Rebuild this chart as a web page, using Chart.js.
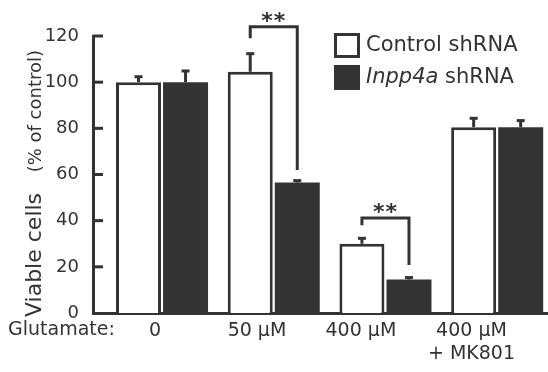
<!DOCTYPE html>
<html>
<head>
<meta charset="utf-8">
<script src="https://cdn.jsdelivr.net/npm/chart.js@4"></script>
<style>
  html, body { margin: 0; padding: 0; background: #fff; }
</style>
</head>
<body>
<canvas id="myChart" width="548" height="372"></canvas>
<script>
// Data
const groups = ['0', '50 μM', '400 μM', ['400 μM', '+ MK801']];
const seriesNames = ['Control shRNA', 'Inpp4a shRNA'];
const controlVals = [100, 104.5, 30, 80.5];
const controlErr = [3, 8.5, 3, 4.5];
const inppVals = [100, 56.5, 14.5, 80.5];
const inppErr = [5.5, 1.5, 1.5, 3.5];
const yTicks = [0, 20, 40, 60, 80, 100, 120];

// significance brackets (y units): group, top, left leg end, right leg end
const sigGroups = [1, 2];
const sigTop = [124, 41.2];
const sigLeftEnd = [119, 38];
const sigRightEnd = [62, 20.8];

const INK = '#333333';
const FONT = "'DejaVu Sans', sans-serif";
const X_MIN = -0.618, X_MAX = 3.455;
// label centres sit a bit left of the bar groups in the original
const labelPos = [-0.063, 0.85, 1.78, 2.77];

// error bars, upward only
const errorBars = {
    id: 'errorBars',
    afterDatasetsDraw(chart) {
        const ctx = chart.ctx;
        const y = chart.scales.y;
        const errs = [controlErr, inppErr];
        ctx.save();
        ctx.strokeStyle = INK;
        ctx.fillStyle = INK;
        ctx.lineWidth = 3;
        chart.data.datasets.forEach((ds, d) => {
            chart.getDatasetMeta(d).data.forEach((bar, i) => {
                const top = y.getPixelForValue(ds.data[i].y + errs[d][i]);
                ctx.beginPath();
                ctx.moveTo(bar.x, bar.y);
                ctx.lineTo(bar.x, top + 1);
                ctx.stroke();
                ctx.fillRect(bar.x - 4, top, 8, 3);
            });
        });
        ctx.restore();
    }
};

// ** brackets
const sigBrackets = {
    id: 'sigBrackets',
    afterDatasetsDraw(chart) {
        const ctx = chart.ctx;
        const y = chart.scales.y;
        ctx.save();
        ctx.strokeStyle = INK;
        ctx.fillStyle = INK;
        ctx.lineWidth = 3;
        ctx.lineJoin = 'miter';
        sigGroups.forEach((g, k) => {
            const xl = chart.getDatasetMeta(0).data[g].x;
            const xr = chart.getDatasetMeta(1).data[g].x;
            const yt = y.getPixelForValue(sigTop[k]);
            ctx.beginPath();
            ctx.moveTo(xl, y.getPixelForValue(sigLeftEnd[k]));
            ctx.lineTo(xl, yt);
            ctx.lineTo(xr, yt);
            ctx.lineTo(xr, y.getPixelForValue(sigRightEnd[k]));
            ctx.stroke();
            ctx.font = 'bold 22px ' + FONT;
            ctx.letterSpacing = '1px';
            ctx.textAlign = 'center';
            ctx.textBaseline = 'alphabetic';
            ctx.fillText('**', (xl + xr) / 2, yt + 1);
            ctx.letterSpacing = '0px';
        });
        ctx.restore();
    }
};

// y tick marks point into the plot, plus legend and titles
const decorations = {
    id: 'decorations',
    afterDraw(chart) {
        const ctx = chart.ctx;
        const y = chart.scales.y;
        const area = chart.chartArea;
        ctx.save();
        ctx.strokeStyle = INK;
        ctx.fillStyle = INK;
        ctx.lineWidth = 3;
        yTicks.forEach(v => {
            if (v === 0) return;
            const py = y.getPixelForValue(v);
            ctx.beginPath();
            ctx.moveTo(area.left, py);
            ctx.lineTo(area.left + 10, py);
            ctx.stroke();
        });

        // legend
        ctx.fillStyle = '#fff';
        ctx.fillRect(334, 33, 26, 25);
        ctx.strokeRect(335.5, 34.5, 23, 22);
        ctx.fillStyle = INK;
        ctx.fillRect(334, 65, 26, 25);
        ctx.textAlign = 'left';
        ctx.textBaseline = 'alphabetic';
        ctx.font = '21px ' + FONT;
        ctx.fillText(seriesNames[0], 366, 51);
        ctx.font = 'italic 21px ' + FONT;
        ctx.fillText('Inpp4a', 366, 83);
        const w = ctx.measureText('Inpp4a').width;
        ctx.font = '21px ' + FONT;
        ctx.fillText(' shRNA', 366 + w, 83);

        // x label prefix
        ctx.font = '19px ' + FONT;
        ctx.fillText('Glutamate:', 8, area.bottom + 22);

        // y title, two sizes
        ctx.translate(41, 0);
        ctx.rotate(-Math.PI / 2);
        ctx.font = '22px ' + FONT;
        ctx.textAlign = 'left';
        ctx.fillText('Viable cells', -(area.bottom + 4), 0);
        ctx.font = '18px ' + FONT;
        ctx.textAlign = 'right';
        ctx.fillText('(% of control)', -50, 0);
        ctx.restore();
    }
};

const ctx = document.getElementById('myChart').getContext('2d');
new Chart(ctx, {
    type: 'bar',
    data: {
        datasets: [{
            label: seriesNames[0],
            data: controlVals.map((v, i) => ({ x: i, y: v })),
            backgroundColor: '#ffffff',
            borderColor: INK,
            borderWidth: 3
        }, {
            label: seriesNames[1],
            data: inppVals.map((v, i) => ({ x: i, y: v })),
            backgroundColor: INK,
            borderWidth: 0
        }]
    },
    options: {
        responsive: false,
        animation: false,
        categoryPercentage: 0.842,
        barPercentage: 0.957,
        layout: { padding: { top: 36, left: 0, right: 0, bottom: 0 } },
        plugins: { legend: { display: false }, tooltip: { enabled: false } },
        scales: {
            x: {
                type: 'linear',
                offset: false,
                min: X_MIN,
                max: X_MAX,
                grid: { display: false, offset: false },
                border: { display: true, color: INK, width: 3 },
                ticks: { display: false },
                afterBuildTicks: s => { s.ticks = groups.map((g, i) => ({ value: i })); },
                afterFit: s => { s.height = 0; }
            },
            x2: {
                type: 'linear',
                position: 'bottom',
                offset: false,
                min: X_MIN,
                max: X_MAX,
                grid: { display: false, offset: false },
                border: { display: false },
                ticks: {
                    color: INK,
                    font: { family: FONT, size: 19 },
                    padding: -1,
                    maxRotation: 0,
                    autoSkip: false,
                    callback: (v, i) => groups[i]
                },
                afterBuildTicks: s => { s.ticks = labelPos.map(v => ({ value: v })); },
                afterFit: s => { s.height = 59; }
            },
            y: {
                min: 0,
                max: 120,
                grid: { display: false },
                border: { display: true, color: INK, width: 3 },
                ticks: { color: INK, font: { family: FONT, size: 18 }, padding: 6 },
                afterBuildTicks: s => { s.ticks = yTicks.map(v => ({ value: v })); },
                afterFit: s => { s.width = 93; }
            }
        }
    },
    plugins: [errorBars, sigBrackets, decorations]
});
</script>
</body>
</html>
